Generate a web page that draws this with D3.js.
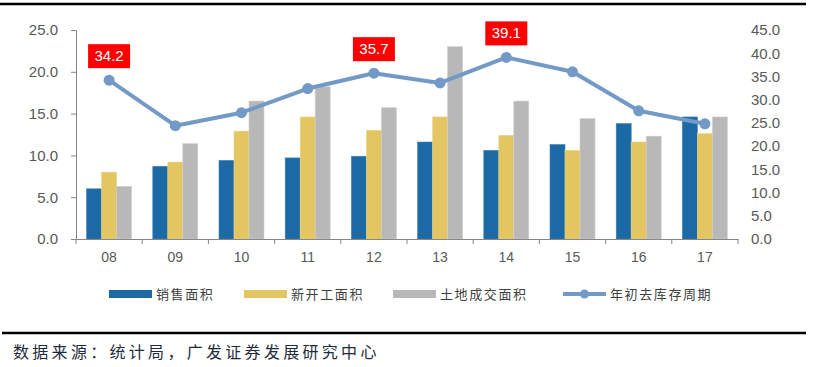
<!DOCTYPE html>
<html><head><meta charset="utf-8">
<script src="https://cdn.jsdelivr.net/npm/d3@7/dist/d3.min.js"></script>
<style>
body{margin:0;background:#fff;}
svg{display:block;}
</style></head>
<body>
<svg id="c" width="820" height="367"></svg>
<script>
const categories = ["08","09","10","11","12","13","14","15","16","17"];
const salesArea = [6.0, 8.7, 9.4, 9.7, 9.9, 11.6, 10.6, 11.3, 13.8, 14.6];
const newStartArea = [8.0, 9.2, 12.9, 14.6, 13.0, 14.6, 12.4, 10.6, 11.6, 12.6];
const landArea = [6.3, 11.4, 16.5, 18.2, 15.7, 23.0, 16.5, 14.4, 12.3, 14.6];
const destockCycle = [34.2, 24.4, 27.2, 32.4, 35.7, 33.6, 39.1, 36.0, 27.6, 24.8];
const leftTicks = [0, 5, 10, 15, 20, 25];
const rightTicks = [0, 5, 10, 15, 20, 25, 30, 35, 40, 45];
const highlighted = ["08", "12", "14"];
const seriesNames = ["销售面积", "新开工面积", "土地成交面积", "年初去库存周期"];
const sourceText = "数据来源：统计局，广发证券发展研究中心";

const colors = {blue:"#1c6aa5", yellow:"#e3c661", gray:"#b8b8b8", line:"#7399c6", red:"#ff0000"};
const svg = d3.select("#c");
const axisColor = "#868686", textColor = "#595959";

const x = d3.scaleBand().domain(categories).range([76, 738]).padding(0);
const yL = d3.scaleLinear().domain([0, 25]).range([239, 30]);
const yR = d3.scaleLinear().domain([0, 45]).range([239, 30]);
const inner = d3.scaleBand().domain([0,1,2]).range([-22.5, 22.5]);

// top and bottom rules
svg.append("line").attr("x1",0).attr("x2",806).attr("y1",4).attr("y2",4).attr("stroke","#000").attr("stroke-width",2.5);
svg.append("line").attr("x1",2).attr("x2",806).attr("y1",333).attr("y2",333).attr("stroke","#000").attr("stroke-width",2.5);

// bars
const barSeries = [salesArea, newStartArea, landArea];
const barColors = [colors.blue, colors.yellow, colors.gray];
const barStroke = ["#3d80b5", "#ead48a", "#cfcfcf"];
barSeries.forEach((vals, si) => {
  svg.append("g").selectAll("rect").data(vals).join("rect")
    .attr("x", (d,i) => x(categories[i]) + x.bandwidth()/2 + inner(si))
    .attr("width", inner.bandwidth())
    .attr("y", d => yL(d))
    .attr("height", d => yL(0) - yL(d))
    .attr("fill", barColors[si])
    .attr("stroke", barStroke[si]).attr("stroke-width", 0.6);
});

// left axis
const gl = svg.append("g").attr("transform","translate(76,0)")
  .call(d3.axisLeft(yL).tickValues(leftTicks).tickFormat(d3.format(".1f")).tickSize(5).tickSizeOuter(0).tickPadding(13));
gl.select(".domain").attr("stroke", axisColor);
gl.selectAll(".tick line").attr("stroke", axisColor);
gl.selectAll("text").attr("fill", textColor).style("font-family","Liberation Sans, Arial, sans-serif").style("font-size","15px");

// right axis (labels only)
const gr = svg.append("g").attr("transform","translate(738,0)")
  .call(d3.axisRight(yR).tickValues(rightTicks).tickFormat(d3.format(".1f")).tickSize(0).tickPadding(13));
gr.select(".domain").remove();
gr.selectAll("text").attr("fill", textColor).style("font-family","Liberation Sans, Arial, sans-serif").style("font-size","15px");

// x axis
const gx = svg.append("g").attr("transform","translate(0,239)")
  .call(d3.axisBottom(x).tickSize(0).tickPadding(13));
gx.select(".domain").attr("stroke", axisColor).attr("stroke-width",1.2);
gx.selectAll("text").attr("fill", textColor).style("font-family","Liberation Sans, Arial, sans-serif").style("font-size","14px");
const boundaries = categories.map(c => x(c)).concat([x.range()[1]]);
svg.append("g").selectAll("line").data(boundaries).join("line")
  .attr("x1", d=>d).attr("x2", d=>d).attr("y1",239).attr("y2",244)
  .attr("stroke", axisColor);

// line series
const line = d3.line().x((d,i) => x(categories[i]) + x.bandwidth()/2).y(d => yR(d));
svg.append("path").datum(destockCycle).attr("d", line)
  .attr("fill","none").attr("stroke", colors.line).attr("stroke-width",4).attr("stroke-linejoin","round");
svg.append("g").selectAll("circle").data(destockCycle).join("circle")
  .attr("cx", (d,i) => x(categories[i]) + x.bandwidth()/2).attr("cy", d => yR(d))
  .attr("r",5.5).attr("fill", colors.line);

// red labels
const lab = svg.append("g").selectAll("g").data(destockCycle.map((v,i)=>({v, c:categories[i]})).filter(d => highlighted.includes(d.c))).join("g")
  .attr("transform", d => `translate(${x(d.c)+x.bandwidth()/2},${yR(d.v)-12})`);
lab.append("rect").attr("x",-21).attr("y",-24).attr("width",42).attr("height",24).attr("fill", colors.red);
lab.append("text").attr("y",-7).attr("text-anchor","middle").attr("fill","#fff")
  .style("font-family","Liberation Sans, Arial, sans-serif").style("font-size","15px")
  .text(d => d.v.toFixed(1));

// legend
const legendItems = [
  {name: seriesNames[0], color: colors.blue, x: 109, type:"bar"},
  {name: seriesNames[1], color: colors.yellow, x: 244, type:"bar"},
  {name: seriesNames[2], color: colors.gray, x: 393, type:"bar"},
  {name: seriesNames[3], color: colors.line, x: 563, type:"line"}
];
const lg = svg.append("g").selectAll("g").data(legendItems).join("g").attr("transform", d => `translate(${d.x},294)`);
lg.filter(d=>d.type==="bar").append("rect").attr("x",0).attr("y",-4).attr("width",43).attr("height",8).attr("fill", d=>d.color);
lg.filter(d=>d.type==="line").append("line").attr("x1",0).attr("x2",43).attr("y1",0).attr("y2",0).attr("stroke", d=>d.color).attr("stroke-width",4);
lg.filter(d=>d.type==="line").append("circle").attr("cx",21.5).attr("cy",0).attr("r",4.5).attr("fill", d=>d.color);
lg.append("text").attr("x",47).attr("y",5).attr("fill","#404040")
  .style("font-family","Noto Sans CJK SC, sans-serif").style("font-size","13px").style("letter-spacing","1.6px")
  .text(d=>d.name);

// source
svg.append("text").attr("x",13).attr("y",358).attr("fill","#1e2b3c")
  .style("font-family","Noto Sans CJK SC, sans-serif").style("font-size","16px").style("letter-spacing","3.3px")
  .text(sourceText);
</script>
</body></html>
